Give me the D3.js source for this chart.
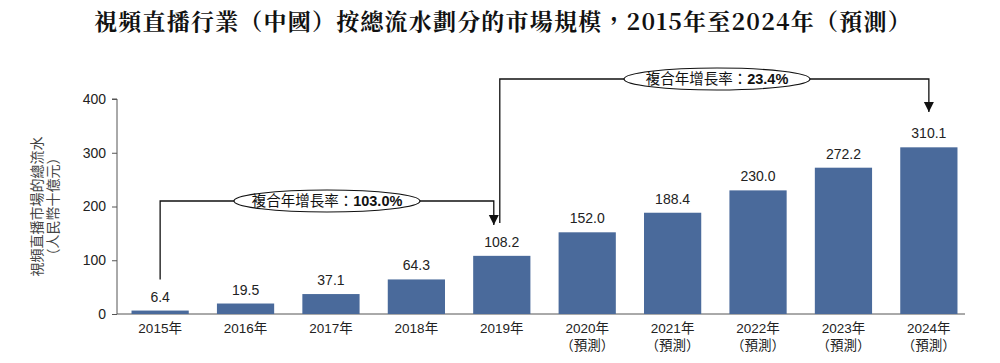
<!DOCTYPE html>
<html>
<head>
<meta charset="utf-8">
<script src="https://cdn.jsdelivr.net/npm/d3@7"></script>
<style>
  body { margin: 0; background: #fff; }
  svg text { font-family: "Liberation Sans", Arial, "Noto Sans CJK TC", sans-serif; }
</style>
</head>
<body>
<div id="chart"></div>
<script>
// data
var years = ["2015年","2016年","2017年","2018年","2019年","2020年","2021年","2022年","2023年","2024年"]
var values = [6.4, 19.5, 37.1, 64.3, 108.2, 152.0, 188.4, 230.0, 272.2, 310.1]
var forecast = [false,false,false,false,false,true,true,true,true,true]
var yTicks = [0, 100, 200, 300, 400]
var cagrs = [
  {from: 0, to: 4, label: "103.0%"},
  {from: 4, to: 9, label: "23.4%"}
]

var w = 1000, h = 363
var margin = {left: 117, right: 28, top: 99, bottom: 49}

var svg = d3.select("#chart").append("svg")
  .attr("width", w).attr("height", h)

// title
svg.append("text")
  .attr("x", 503).attr("y", 30)
  .attr("text-anchor", "middle")
  .style("font-family", "'Noto Serif CJK TC','Noto Sans CJK TC',serif")
  .style("font-weight", "bold")
  .style("font-size", "23px")
  .style("letter-spacing", "1.2px")
  .attr("fill", "#111")
  .text("視頻直播行業（中國）按總流水劃分的市場規模，2015年至2024年（預測）")

var x = d3.scaleBand().domain(years)
  .range([margin.left, w - margin.right + 0]).paddingInner(0.33).paddingOuter(0.17)
var y = d3.scaleLinear().domain([0, 400]).range([h - margin.bottom, margin.top])

// y axis
var yAxis = svg.append("g")
  .attr("transform", "translate(" + margin.left + ",0)")
  .call(d3.axisLeft(y).tickValues(yTicks).tickSize(5).tickPadding(6))
yAxis.selectAll("text").style("font-size", "14px").attr("fill", "#222")
yAxis.selectAll("path,line").attr("stroke", "#555")
yAxis.select(".domain").attr("d", "M-5," + y(400) + "H0V" + y(0))

// x axis line
svg.append("line")
  .attr("x1", margin.left).attr("x2", w - 35)
  .attr("y1", y(0)).attr("y2", y(0))
  .attr("stroke", "#555")

// y label
var yl = svg.append("text")
  .attr("transform", "translate(42," + y(200) + ") rotate(-90)")
  .attr("text-anchor", "middle")
  .style("font-size", "14px")
  .attr("fill", "#444")
yl.append("tspan").attr("x", 0).attr("dy", 0).text("視頻直播市場的總流水")
yl.append("tspan").attr("x", 0).attr("dy", 16).text("（人民幣十億元）")

// bars
svg.selectAll(".bar").data(values).join("rect")
  .attr("class", "bar")
  .attr("x", function(d, i) { return x(years[i]) })
  .attr("width", x.bandwidth())
  .attr("y", function(d) { return y(d) })
  .attr("height", function(d) { return y(0) - y(d) })
  .attr("fill", "#4a6a9b")

svg.selectAll(".val").data(values).join("text")
  .attr("class", "val")
  .attr("x", function(d, i) { return x(years[i]) + x.bandwidth() / 2 })
  .attr("y", function(d) { return y(d) - 9 })
  .attr("text-anchor", "middle")
  .style("font-size", "14px")
  .attr("fill", "#222")
  .text(function(d) { return d.toFixed(1) })

// x labels
var xl = svg.selectAll(".xl").data(years).join("text")
  .attr("class", "xl")
  .attr("x", function(d) { return x(d) + x.bandwidth() / 2 })
  .attr("y", y(0) + 19)
  .attr("text-anchor", "middle")
  .style("font-size", "13.5px")
  .attr("fill", "#222")
xl.append("tspan").text(function(d) { return d })
xl.filter(function(d, i) { return forecast[i] }).append("tspan")
  .attr("x", function(d) { return x(d) + x.bandwidth() / 2 })
  .attr("dy", 17)
  .text("（預測）")

// CAGR brackets
svg.append("defs").append("marker")
  .attr("id", "arrow").attr("viewBox", "0 0 10 10")
  .attr("refX", 10).attr("refY", 5)
  .attr("markerWidth", 10).attr("markerHeight", 12)
  .attr("markerUnits", "userSpaceOnUse")
  .attr("orient", "auto")
  .append("path").attr("d", "M0,0L10,5L0,10z").attr("fill", "#111")

var levels = [201, 79]
var tips = [225, 112]
cagrs.forEach(function(c, k) {
  var cx0 = x(years[c.from]) + x.bandwidth() / 2
  var cx1 = x(years[c.to]) + x.bandwidth() / 2
  var startY = y(values[c.from]) - 31
  if (k == 0) cx1 -= 8
  if (k == 1) { cx0 -= 2; startY = 223 }
  var ly = levels[k]
  svg.append("path")
    .attr("d", "M" + cx0 + "," + startY + "V" + ly + "H" + cx1 + "V" + tips[k])
    .attr("fill", "none").attr("stroke", "#111").attr("stroke-width", 1.3)
    .attr("marker-end", "url(#arrow)")
  var mx = k == 0 ? 327 : 717
  svg.append("ellipse")
    .attr("cx", mx).attr("cy", ly)
    .attr("rx", 93).attr("ry", 11)
    .attr("fill", "#fff").attr("stroke", "#111").attr("stroke-width", 1.2)
  var t = svg.append("text")
    .attr("x", mx).attr("y", ly + 5)
    .attr("text-anchor", "middle")
    .style("font-size", "14.5px")
    .attr("fill", "#111")
  t.append("tspan").text("複合年增長率：")
  t.append("tspan").style("font-weight", "bold").text(c.label)
})
</script>
</body>
</html>
